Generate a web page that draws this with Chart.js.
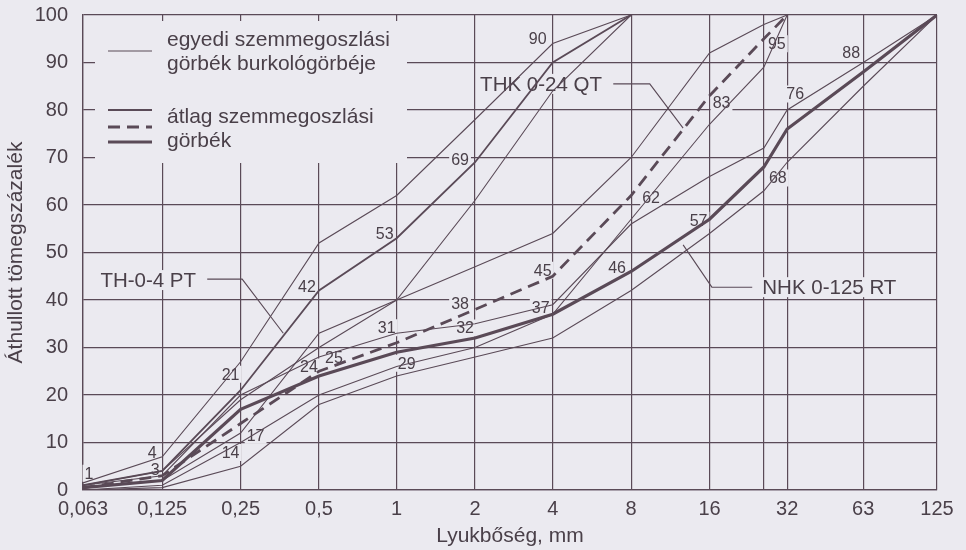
<!DOCTYPE html>
<html lang="hu">
<head>
<meta charset="utf-8">
<title>Szemmegoszlási görbék</title>
<script src="https://cdn.jsdelivr.net/npm/chart.js@4.4.1/dist/chart.umd.min.js"></script>
<style>
  html, body { margin: 0; padding: 0; background: #ebeaf0; }
  #wrap { width: 966px; height: 550px; }
</style>
</head>
<body>
<div id="wrap"><canvas id="grafikon" width="966" height="550"></canvas></div>
<script>
// szitaméretek (mm) és a helyük a vízszintes tengelyen
const szitak = ['0,063', '0,125', '0,25', '0,5', '1', '2', '4', '8', '16', '24', '32', '63', '125'];
const szitaHely = [0, 1.02, 2.03, 3.04, 4.04, 5.05, 6.05, 7.06, 8.07, 8.77, 9.07, 10.05, 11];
const rejtettSzita = '24';
const yOsztas = [0, 10, 20, 30, 40, 50, 60, 70, 80, 90, 100];

// TH 0-4 PT
const thAtlag = [1, 4, 21, 42, 53, 69, 90, 100];
const thFelso = [1.5, 7, 27, 52, 62, 78, 94, 100];
const thAlso = [0.5, 2, 12, 33, 40, 61, 84, 100];

// THK 0-24 QT
const thkAtlag = [0.5, 3, 14, 25, 31, 38, 45, 62, 83, 95, 100];
const thkFelso = [1, 4, 19, 30, 40, 47, 54, 70, 92, 98, 100];
const thkAlso = [0, 1, 10, 20, 26, 30, 37, 57, 77, 89, 100];

// NHK 0-125 RT
const nhkAtlag = [0.5, 2, 17, 24, 29, 32, 37, 46, 57, 68, 76, 88, 100];
const nhkFelso = [1, 3, 20, 28, 33, 35, 39, 56, 66, 72, 80, 90, 100];
const nhkAlso = [0, 0.5, 5, 18, 24, 28, 32, 42, 54, 63, 69, 85, 100];

const SZIN = '#5a4a57';
const SZOVEG = '#4a4049';
const HATTER = '#ebeaf0';
const BETU = '"Liberation Sans", Arial, sans-serif';

function pontok(ertekek) {
  return ertekek.map((v, i) => ({ x: szitaHely[i], y: v }));
}

function vonal(ertekek, vastag, szaggatott) {
  return {
    data: pontok(ertekek),
    borderColor: SZIN,
    borderWidth: vastag,
    borderDash: szaggatott ? [12, 7] : [],
    pointRadius: 0,
    tension: 0,
    fill: false
  };
}

const sorozatok = { th: thAtlag, thk: thkAtlag, nhk: nhkAtlag };

// értékfeliratok: sorozat, szita index, eltolás (px)
const feliratok = [
  ['th', 0, 6, -12], ['th', 1, -10, -18], ['th', 2, -10, -16], ['th', 3, -12, -4],
  ['th', 4, -12, -5], ['th', 5, -15, -3], ['th', 6, -15, -24],
  ['thk', 1, -7, -6], ['thk', 2, -10, 29], ['thk', 3, 15, -14], ['thk', 4, -10, -15],
  ['thk', 5, -15, -6], ['thk', 6, -10, -6], ['thk', 7, 20, 2], ['thk', 8, 12, 7],
  ['thk', 9, 13, 5],
  ['nhk', 2, 15, 26], ['nhk', 3, -10, -9], ['nhk', 4, 10, 11], ['nhk', 5, -10, -10],
  ['nhk', 6, -12, -7], ['nhk', 7, -14, -4], ['nhk', 8, -11, 1], ['nhk', 9, 14, 11],
  ['nhk', 10, 8, -35], ['nhk', 11, -12, -19]
];

// megnevezések mutatóvonallal (tengelyértékekben)
const megnevezesek = [
  { szoveg: 'TH-0-4 PT', x: 0.84, y: 44.2, igazit: 'center',
    mutato: [[1.6, 44.4], [2.05, 44.4], [2.58, 33]] },
  { szoveg: 'THK 0-24 QT', x: 5.9, y: 85.5, igazit: 'center',
    mutato: [[6.83, 85.5], [7.3, 85.5], [7.73, 76.2]] },
  { szoveg: 'NHK 0-125 RT', x: 8.75, y: 42.7, igazit: 'left',
    mutato: [[8.62, 42.7], [8.1, 42.7], [7.73, 51.6]] }
];

function hatterSzoveg(ctx, szoveg, x, y, igazit, magas) {
  const w = ctx.measureText(szoveg).width;
  const bal = igazit === 'left' ? x : x - w / 2;
  ctx.fillStyle = HATTER;
  ctx.fillRect(bal - 2, y - magas / 2, w + 4, magas);
  ctx.fillStyle = SZOVEG;
  ctx.textAlign = igazit;
  ctx.textBaseline = 'middle';
  ctx.fillText(szoveg, x, y + 1);
}

const rajzok = {
  id: 'rajzok',
  beforeDraw(chart) {
    const ctx = chart.ctx;
    ctx.save();
    ctx.fillStyle = HATTER;
    ctx.fillRect(0, 0, chart.width, chart.height);
    ctx.restore();
  },
  beforeDatasetsDraw(chart) {
    const ctx = chart.ctx;
    const xs = chart.scales.x, ys = chart.scales.y;
    const a = chart.chartArea;
    ctx.save();

    // jelmagyarázat helye kitakarva a rácsból
    ctx.fillStyle = HATTER;
    ctx.fillRect(a.left + 12, a.top + 6, 312, 142);

    ctx.strokeStyle = SZIN;
    ctx.lineCap = 'butt';
    const jel = (y, w, dash) => {
      ctx.beginPath();
      ctx.lineWidth = w;
      ctx.setLineDash(dash);
      ctx.moveTo(a.left + 25, a.top + y);
      ctx.lineTo(a.left + 69, a.top + y);
      ctx.stroke();
    };
    jel(36, 1.1, []);
    jel(95, 1.8, []);
    jel(112, 2.8, [12, 7]);
    jel(127, 3.2, []);
    ctx.setLineDash([]);

    ctx.font = '21px ' + BETU;
    ctx.fillStyle = SZOVEG;
    ctx.textAlign = 'left';
    ctx.textBaseline = 'middle';
    ctx.fillText('egyedi szemmegoszlási', a.left + 84, a.top + 25);
    ctx.fillText('görbék burkológörbéje', a.left + 84, a.top + 49);
    ctx.fillText('átlag szemmegoszlási', a.left + 84, a.top + 102);
    ctx.fillText('görbék', a.left + 84, a.top + 126);

    // megnevezések
    megnevezesek.forEach(m => {
      ctx.font = '20.5px ' + BETU;
      hatterSzoveg(ctx, m.szoveg, xs.getPixelForValue(m.x), ys.getPixelForValue(m.y), m.igazit, 20);
      ctx.beginPath();
      ctx.lineWidth = 1.1;
      ctx.strokeStyle = SZIN;
      m.mutato.forEach(([px, py], i) => {
        const X = xs.getPixelForValue(px), Y = ys.getPixelForValue(py);
        if (i === 0) ctx.moveTo(X, Y); else ctx.lineTo(X, Y);
      });
      ctx.stroke();
    });

    // értékfeliratok
    ctx.font = '16px ' + BETU;
    feliratok.forEach(([s, i, dx, dy]) => {
      const v = sorozatok[s][i];
      const X = xs.getPixelForValue(szitaHely[i]) + dx;
      const Y = ys.getPixelForValue(v) + dy;
      hatterSzoveg(ctx, String(v), X, Y, 'center', 17);
    });

    // tengelycímek
    ctx.font = '21px ' + BETU;
    ctx.fillStyle = SZOVEG;
    ctx.textAlign = 'center';
    ctx.textBaseline = 'middle';
    ctx.fillText('Lyukbőség, mm', (a.left + a.right) / 2, 536);
    ctx.translate(16, (a.top + a.bottom) / 2);
    ctx.rotate(-Math.PI / 2);
    ctx.fillText('Áthullott tömegszázalék', 0, 0);
    ctx.restore();
  }
};

const ctx = document.getElementById('grafikon').getContext('2d');
new Chart(ctx, {
  type: 'line',
  data: {
    datasets: [
      vonal(thFelso, 1.1), vonal(thAlso, 1.1),
      vonal(thkFelso, 1.1), vonal(thkAlso, 1.1),
      vonal(nhkFelso, 1.1), vonal(nhkAlso, 1.1),
      vonal(thAtlag, 1.8),
      vonal(thkAtlag, 2.8, true),
      vonal(nhkAtlag, 3.2)
    ]
  },
  options: {
    responsive: false,
    animation: false,
    layout: { padding: { top: 15, right: 29, left: 0, bottom: 0 } },
    plugins: { legend: { display: false }, tooltip: { enabled: false } },
    scales: {
      x: {
        type: 'linear',
        min: 0,
        max: 11,
        afterBuildTicks: scale => { scale.ticks = szitaHely.map(v => ({ value: v })); },
        afterFit: scale => { scale.height = 60; },
        ticks: {
          autoSkip: false,
          maxRotation: 0,
          padding: 7,
          color: SZOVEG,
          font: { size: 20, family: BETU },
          callback: v => {
            const s = szitak[szitaHely.indexOf(v)];
            return s === rejtettSzita ? '' : s;
          }
        },
        grid: { color: SZIN, lineWidth: 1.2, drawTicks: false },
        border: { color: SZIN, width: 1.3 }
      },
      y: {
        min: 0,
        max: 100,
        afterBuildTicks: scale => { scale.ticks = yOsztas.map(v => ({ value: v })); },
        // a feliratok kilóghatnak, a rajzterület ne szűküljön miattuk
        afterFit: scale => {
          scale.width = 83;
          scale.paddingTop = 0;
          scale.paddingBottom = 0;
        },
        ticks: {
          padding: 15,
          color: SZOVEG,
          font: { size: 20, family: BETU }
        },
        grid: { color: SZIN, lineWidth: 1.2, drawTicks: false },
        border: { color: SZIN, width: 1.3 }
      }
    }
  },
  plugins: [rajzok]
});
</script>
</body>
</html>
